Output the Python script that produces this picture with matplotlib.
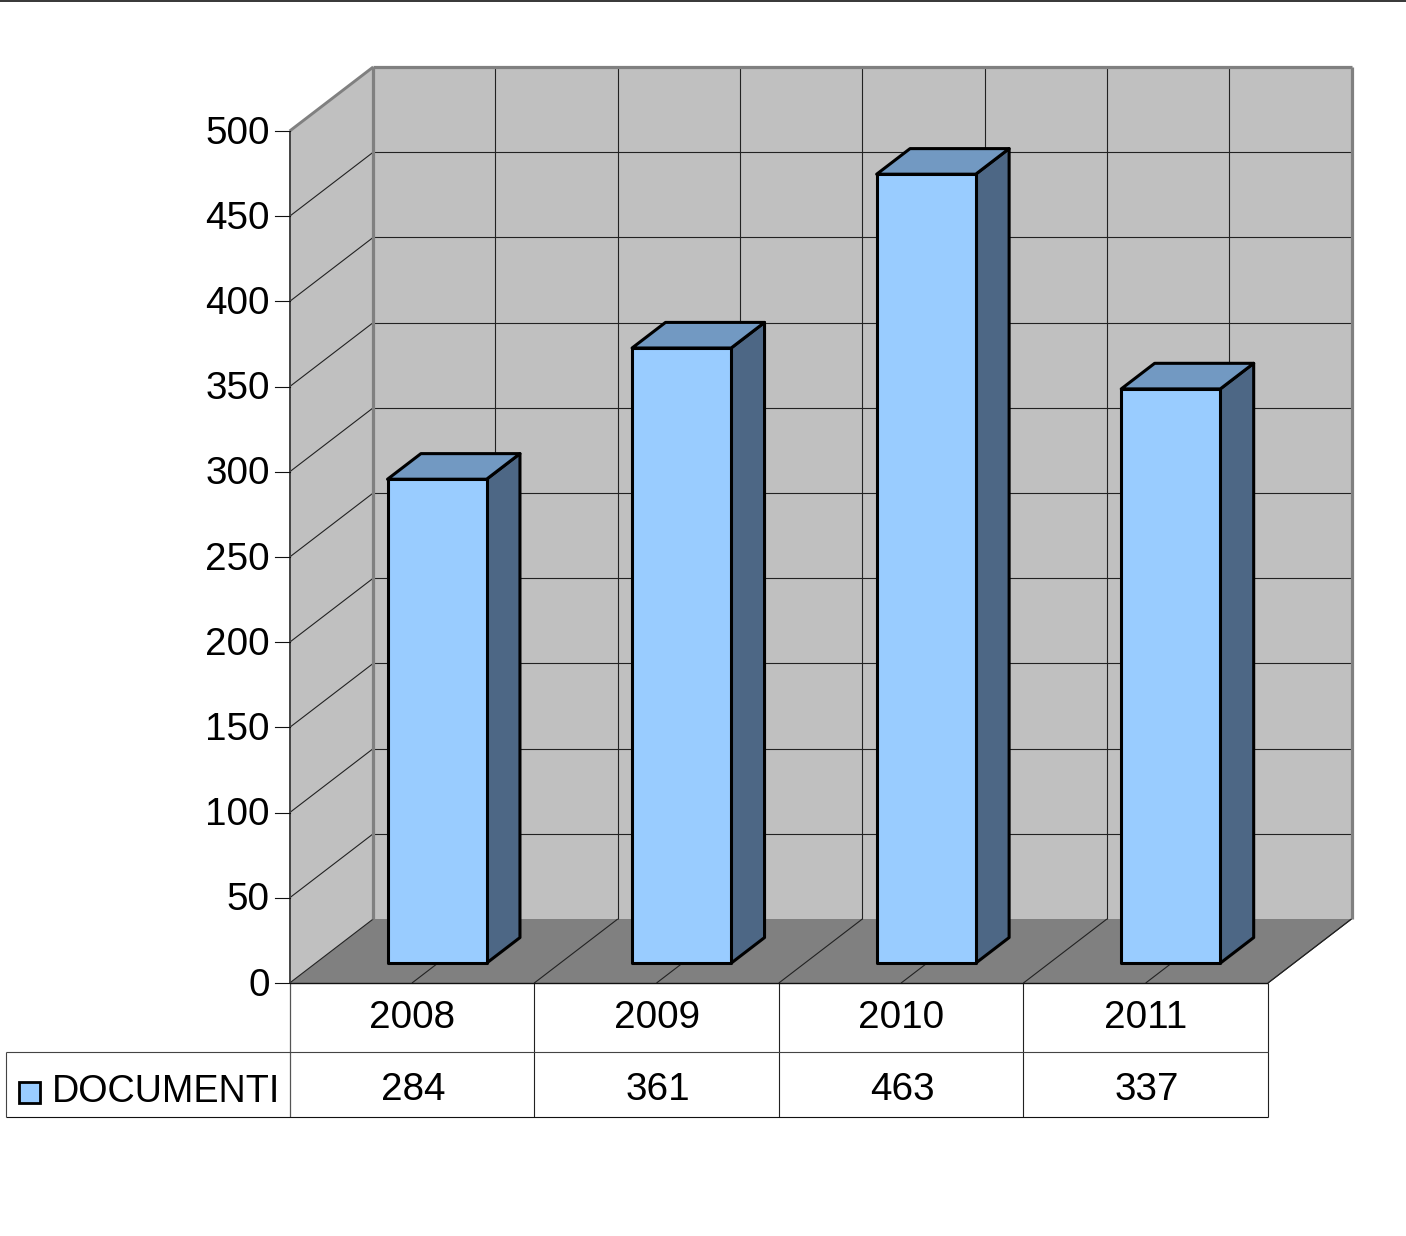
import matplotlib
matplotlib.use("Agg")
import matplotlib.pyplot as plt
from matplotlib.patches import Polygon, Rectangle

plt.rcParams['font.family'] = ['Liberation Sans', 'DejaVu Sans']

categories = ['2008', '2009', '2010', '2011']
values = [284, 361, 463, 337]
series_name = 'DOCUMENTI'
y_ticks = [0, 50, 100, 150, 200, 250, 300, 350, 400, 450, 500]

W, H = 1406, 1236
fig = plt.figure(figsize=(W / 100, H / 100), dpi=100, facecolor='white')
L, R, T, B = 289.7, 1268, 131, 983
ax = fig.add_axes([L / W, 1 - B / H, (R - L) / W, (B - T) / H])
ax.set_xlim(0, len(categories))
ax.set_ylim(0, 500)
ax.axis('off')

PX = (R - L) / len(categories)
PY = (B - T) / 500.0
DX = 83.5 / PX    # depth vector, in data units
DY = 64 / PY
FS = 27.8


def dp(x, y, d=0.0):
    return (x + DX * d, y + DY * d)


def poly(pts, **kw):
    p = Polygon(pts, closed=True, clip_on=False, **kw)
    ax.add_patch(p)
    return p


def line(a, b, color='#222222', lw=0.8, z=2):
    ax.plot([a[0], b[0]], [a[1], b[1]], color=color, lw=lw, clip_on=False,
            solid_capstyle='butt', zorder=z)


n = len(categories)
ymax = y_ticks[-1]
# walls and floor
poly([dp(0, 0), dp(0, 0, 1), dp(0, ymax, 1), dp(0, ymax)], fc='#C0C0C0', ec='none', zorder=1)
poly([dp(0, 0, 1), dp(n, 0, 1), dp(n, ymax, 1), dp(0, ymax, 1)], fc='#C0C0C0', ec='none', zorder=1)
poly([dp(0, 0), dp(n, 0), dp(n, 0, 1), dp(0, 0, 1)], fc='#808080', ec='none', zorder=1)

# gridlines
for t in y_ticks[1:-1]:
    line(dp(0, t), dp(0, t, 1))
    line(dp(0, t, 1), dp(n, t, 1))
for i in range(2 * n + 1):
    x = i / 2
    if 0 < i < 2 * n:
        line(dp(x, 0, 1), dp(x, ymax, 1))
    line(dp(x, 0), dp(x, 0, 1))

# frame of the walls
FR = '#808080'
line(dp(0, 0), dp(0, ymax), '#444444', 1.4, 3)
line(dp(0, ymax), dp(0, ymax, 1), FR, 2.1, 3)
line(dp(0, 0, 1), dp(0, ymax, 1), FR, 2.3, 3)
line(dp(0, ymax, 1), dp(n, ymax, 1), FR, 2.3, 3)
line(dp(n, 0, 1), dp(n, ymax, 1), FR, 2.3, 3)
line(dp(n, 0), dp(n, 0, 1), '#222222', 0.8, 3)

# y ticks
for t in y_ticks:
    ax.plot([-15 / PX, 0], [t, t], color='#111111', lw=0.8, clip_on=False, zorder=3)
    ax.text(-20 / PX, t + 1.5 / PY, str(t), ha='right', va='center_baseline', fontsize=FS, color='black')

# bars
OFF = 0.30   # front face depth
DEP = 0.40   # bar depth
BW = 0.405   # bar width in category units
for i, v in enumerate(values):
    c = i + 0.5 + DX * OFF
    x0, x1 = c - BW / 2, c + BW / 2
    y0, y1 = DY * 0.31, DY * 0.31 + v
    kw = dict(ec='black', lw=2.2, joinstyle='round', zorder=5)
    poly([(x1, y0), (x1 + DX * DEP, y0 + DY * DEP), (x1 + DX * DEP, y1 + DY * DEP), (x1, y1)], fc='#4D6785', **kw)
    poly([(x0, y1), (x1, y1), (x1 + DX * DEP, y1 + DY * DEP), (x0 + DX * DEP, y1 + DY * DEP)], fc='#7299C2', **kw)
    poly([(x0, y0), (x1, y0), (x1, y1), (x0, y1)], fc='#99CCFF', **kw)

# data table beneath the chart
T1 = -69 / PY
T2 = -134 / PY
LEFT = -284 / PX
tc = '#222222'
line((0, 0), (0, T2), '#555555', 0.9)
for i in range(1, n + 1):
    line((i, 0), (i, T2), tc)
line((0, 0), (n, 0), '#111111', 1.0, 4)
line((LEFT, T1), (n, T1), '#444444')
line((LEFT, T2), (n, T2), '#111111')
line((LEFT, T1), (LEFT, T2), '#444444')
for i, (c, v) in enumerate(zip(categories, values)):
    ax.text(i + 0.5, T1 / 2 + 4 / PY, c, ha='center', va='center_baseline', fontsize=FS, color='black')
    ax.text(i + 0.5 + 1.5 / PX, (T1 + T2) / 2 - 1 / PY, str(v), ha='center', va='center_baseline',
            fontsize=FS, color='black')
# legend key and label in the table
ax.add_patch(Rectangle((-271 / PX, -120 / PY), 21 / PX, 21 / PY, fc='#99CCFF', ec='black', lw=2.0,
                       clip_on=False, zorder=5))
ax.text(-238 / PX, (T1 + T2) / 2 - 3 / PY, series_name, ha='left', va='center_baseline', fontsize=27.2,
        color='black')

# rule along the top of the page
fig.add_artist(plt.Line2D([0, 1], [1 - 0.5 / H, 1 - 0.5 / H], color='#000000', lw=1.1))

fig.savefig('out.png', dpi=100, facecolor='white')
